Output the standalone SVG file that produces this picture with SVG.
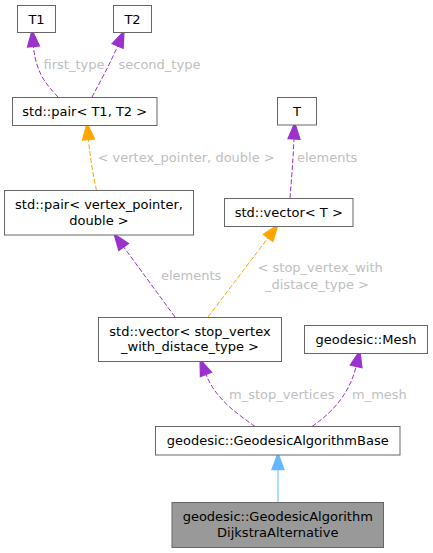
<svg xmlns="http://www.w3.org/2000/svg" width="433" height="553" viewBox="0 0 433 553">
<style>
.box{fill:#ffffff;stroke:#666666;stroke-width:1}
.hl{fill:#999999;stroke:#666666;stroke-width:1}
.nt{font-family:"DejaVu Sans","Liberation Sans",sans-serif;font-size:13px;fill:#000000;text-anchor:middle}
.lb{font-family:"DejaVu Sans","Liberation Sans",sans-serif;font-size:13px;fill:#bebebe}
.e{fill:none;stroke-width:1}
.d{stroke-dasharray:5,2}
.pu{stroke:#9a32cd}
.or{stroke:#ffa500}
.bl{stroke:#63b8ff}
</style>
<defs>
<marker id="ap" markerUnits="userSpaceOnUse" orient="auto" refX="0" refY="0" markerWidth="20" markerHeight="20" viewBox="-1 -6 16 12" overflow="visible"><path d="M0,-4.8 L13,0 L0,4.8 z" fill="#9a32cd" stroke="#9a32cd"/></marker>
<marker id="ao" markerUnits="userSpaceOnUse" orient="auto" refX="0" refY="0" markerWidth="20" markerHeight="20" viewBox="-1 -6 16 12" overflow="visible"><path d="M0,-4.8 L13,0 L0,4.8 z" fill="#ffa500" stroke="#ffa500"/></marker>
<marker id="ab" markerUnits="userSpaceOnUse" orient="auto" refX="0" refY="0" markerWidth="20" markerHeight="20" viewBox="-1 -6 16 12" overflow="visible"><path d="M0,-4.8 L13,0 L0,4.8 z" fill="#63b8ff" stroke="#63b8ff"/></marker>
</defs>
<g id="edges">
<path class="e d pu" d="M58,97 C50,88 36,76 33.5,46.5" marker-end="url(#ap)"/>
<path class="e d pu" d="M92,97 C100,82 109,66 117.6,46" marker-end="url(#ap)"/>
<path class="e d or" d="M96.5,190.5 C93,174 90,157 88.5,139.5" marker-end="url(#ao)"/>
<path class="e d pu" d="M290,198 C291.5,180 293,160 294,139" marker-end="url(#ap)"/>
<path class="e d pu" d="M175,317 L123.7,247" marker-end="url(#ap)"/>
<path class="e d or" d="M208,317 L268.1,237.8" marker-end="url(#ao)"/>
<path class="e d pu" d="M255,426.5 C238,414 216,400 206,374.5" marker-end="url(#ap)"/>
<path class="e d pu" d="M312,426.5 C330,414 349,396 356.1,366.4" marker-end="url(#ap)"/>
<path class="e bl" d="M278,502 L278,469.5" marker-end="url(#ab)"/>
<text class="lb" x="43.5" y="69">first_type</text>
<text class="lb" x="118.5" y="69">second_type</text>
<text class="lb" x="97.5" y="162">&lt; vertex_pointer, double &gt;</text>
<text class="lb" x="297" y="162">elements</text>
<text class="lb" x="161" y="280">elements</text>
<text class="lb" x="257.5" y="272">&lt; stop_vertex_with</text>
<text class="lb" x="265" y="288.5">_distace_type &gt;</text>
<text class="lb" x="229" y="398.5">m_stop_vertices</text>
<text class="lb" x="352" y="398.5">m_mesh</text>
</g>
<g id="T1"><rect class="box" x="17.5" y="5.5" width="38" height="27"/><text class="nt" x="36.5" y="23.5">T1</text></g>
<g id="T2"><rect class="box" x="113.5" y="5.5" width="38" height="27"/><text class="nt" x="132.5" y="23.5">T2</text></g>
<g id="pairT1T2"><rect class="box" x="12.5" y="97.5" width="144.5" height="28"/><text class="nt" x="84.75" y="116">std::pair&lt; T1, T2 &gt;</text></g>
<g id="T"><rect class="box" x="277.5" y="97.5" width="39" height="27.5"/><text class="nt" x="297" y="115.5">T</text></g>
<g id="vectorT"><rect class="box" x="224.5" y="198.5" width="128.5" height="28"/><text class="nt" x="288.75" y="217">std::vector&lt; T &gt;</text></g>
<g id="pairVP"><rect class="box" x="4.5" y="190.5" width="189" height="44.5"/><text class="nt" x="99" y="209.2">std::pair&lt; vertex_pointer,</text><text class="nt" x="99" y="224.8">double &gt;</text></g>
<g id="vectorStop"><rect class="box" x="98.5" y="317.5" width="183" height="44"/><text class="nt" x="190" y="335.7">std::vector&lt; stop_vertex</text><text class="nt" x="190" y="351.3">_with_distace_type &gt;</text></g>
<g id="Mesh"><rect class="box" x="304.5" y="325.5" width="123" height="28"/><text class="nt" x="366" y="344">geodesic::Mesh</text></g>
<g id="Base"><rect class="box" x="155.5" y="426.5" width="244.5" height="28.5"/><text class="nt" x="277.75" y="445">geodesic::GeodesicAlgorithmBase</text></g>
<g id="Dijkstra"><rect class="hl" x="172" y="502.5" width="211.5" height="45"/><text class="nt" x="277.75" y="521">geodesic::GeodesicAlgorithm</text><text class="nt" x="277.75" y="536.7">DijkstraAlternative</text></g>
</svg>
